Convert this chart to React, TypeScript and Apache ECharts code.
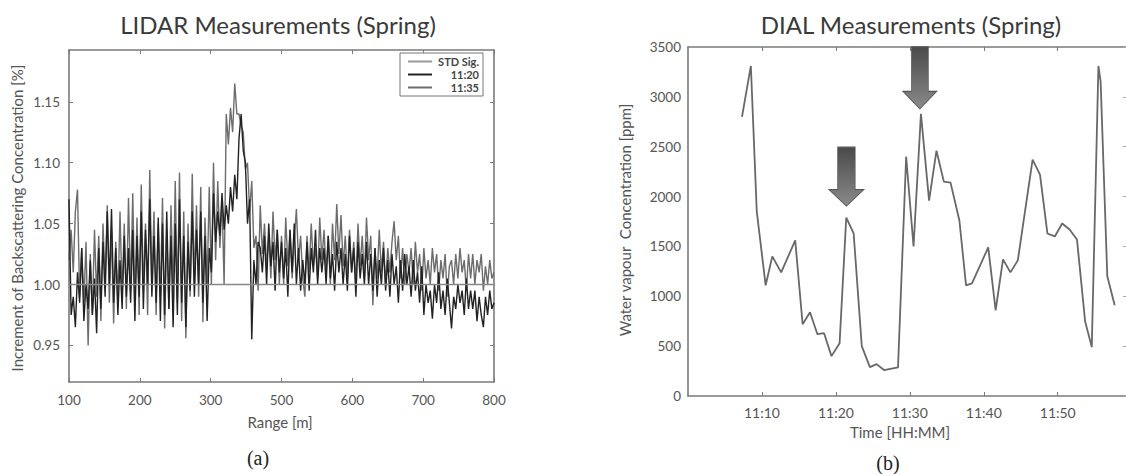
import React, { useEffect, useRef } from "react";
import * as echarts from "echarts";

// ---------- LIDAR (left) ----------
const lidarTickLabels = ["100", "200", "300", "500", "600", "700", "800"];
const lidarYTicks = [0.95, 1.0, 1.05, 1.1, 1.15];
const RANGE_START = 100;
const RANGE_STEP = 3;
const stdSigLevel = 1.0;

const lidar1135 = [
  1.020, 1.045, 1.010, 1.060, 1.078, 0.990, 1.030, 0.985, 1.035, 0.950,
  1.025, 0.975, 1.045, 0.990, 1.040, 0.970, 1.050, 1.000, 1.065, 0.985,
  1.045, 0.968, 1.035, 0.985, 1.060, 0.990, 1.050, 0.980, 1.071, 0.995,
  1.075, 0.985, 1.055, 0.975, 1.082, 0.995, 1.050, 0.975, 1.094, 1.000,
  1.060, 0.975, 1.050, 0.990, 1.071, 0.964, 1.045, 0.980, 1.065, 0.990,
  1.085, 0.985, 1.092, 0.970, 1.060, 0.956, 1.050, 0.990, 1.091, 1.000,
  1.065, 0.990, 1.080, 0.969, 1.055, 1.000, 1.080, 1.000, 1.100, 1.020,
  1.085, 1.030, 1.070, 1.000, 1.140, 1.115, 1.145, 1.125, 1.165, 1.140,
  1.140, 1.130, 1.125, 1.095, 1.100, 1.060, 1.085, 1.030, 1.040, 0.995,
  1.065, 1.025, 1.050, 1.015, 1.040, 1.005, 1.060, 1.020, 1.045, 1.000,
  1.040, 1.000, 1.055, 1.015, 1.045, 1.005, 1.035, 1.062, 1.020, 1.040,
  1.005, 0.990, 1.040, 1.010, 1.050, 1.015, 1.030, 1.005, 1.055, 1.020,
  1.045, 1.010, 1.040, 1.000, 1.050, 1.020, 1.066, 1.025, 1.057, 1.015,
  1.040, 1.005, 1.045, 1.010, 1.035, 1.000, 1.050, 1.015, 1.040, 1.005,
  1.055, 1.020, 1.040, 0.983, 1.030, 1.005, 1.045, 1.010, 1.035, 1.000,
  1.030, 1.010, 1.035, 1.052, 1.020, 1.040, 1.005, 1.030, 1.000, 1.025,
  1.010, 1.030, 1.000, 1.035, 1.010, 1.025, 0.995, 1.030, 1.005, 1.020,
  1.000, 1.030, 1.010, 1.025, 0.995, 1.020, 1.005, 1.025, 0.990, 1.015,
  1.020, 1.000, 1.025, 1.005, 1.030, 1.010, 1.020, 0.995, 1.025, 1.005,
  1.025, 1.000, 1.020, 1.010, 1.025, 0.995, 1.015, 1.000, 1.020, 1.005,
  1.010,
];

const lidar1120 = [
  1.070, 0.975, 0.990, 0.965, 1.010, 0.985, 1.030, 0.970, 1.000, 0.980,
  1.020, 0.975, 1.005, 0.960, 1.030, 0.980, 1.035, 0.990, 1.060, 1.000,
  1.062, 0.985, 1.030, 0.975, 1.020, 0.980, 1.040, 0.990, 1.030, 0.985,
  1.045, 0.970, 1.040, 0.990, 1.060, 0.980, 1.045, 1.000, 1.070, 0.990,
  1.040, 0.985, 1.055, 0.970, 1.050, 0.975, 1.060, 0.980, 1.040, 0.965,
  1.050, 0.975, 1.070, 0.985, 1.040, 0.965, 1.035, 0.995, 1.060, 0.990,
  1.045, 1.000, 1.060, 0.985, 1.040, 0.970, 1.030, 1.010, 1.075, 1.035,
  1.060, 1.040, 1.075, 1.045, 1.065, 1.050, 1.080, 1.060, 1.090, 1.070,
  1.120, 1.140, 1.110, 1.100, 1.050, 1.070, 0.955, 1.020, 1.000, 1.035,
  1.030, 1.010, 1.040, 1.000, 1.050, 1.015, 1.035, 0.995, 1.045, 1.010,
  1.035, 1.005, 1.030, 0.990, 1.045, 1.010, 1.050, 1.000, 1.030, 0.995,
  1.020, 1.000, 1.035, 0.995, 1.030, 1.010, 1.045, 1.000, 1.030, 1.010,
  1.030, 1.000, 1.040, 1.005, 1.025, 0.995, 1.035, 1.010, 1.030, 1.000,
  1.025, 0.995, 1.040, 1.010, 1.030, 0.990, 1.035, 1.005, 1.025, 1.000,
  1.035, 1.000, 1.025, 0.995, 1.030, 0.990, 1.020, 1.000, 1.030, 0.995,
  1.020, 0.990, 1.025, 1.000, 1.015, 0.985, 1.020, 0.995, 1.025, 1.000,
  1.015, 0.990, 1.020, 0.995, 1.010, 0.985, 1.015, 0.975, 1.000, 0.985,
  0.995, 0.972, 1.000, 0.985, 1.010, 0.980, 0.995, 0.975, 1.005, 0.985,
  0.964, 0.990, 0.980, 1.000, 0.985, 0.995, 0.975, 1.005, 0.980, 0.995,
  0.980, 0.995, 0.970, 0.990, 0.975, 0.965, 0.990, 0.975, 0.995, 0.980,
  0.985,
];

// ---------- DIAL (right) ----------
// minutes after 11:00
const dialMinutes = [
  7.3, 8.5, 9.3, 10.5, 11.4, 12.6, 14.5, 15.5, 16.5, 17.5, 18.4, 19.4, 20.5,
  21.4, 22.4, 23.5, 24.6, 25.5, 26.5, 28.4, 29.5, 30.5, 31.5, 32.6, 33.6, 34.6,
  35.5, 36.7, 37.6, 38.4, 40.6, 41.6, 42.6, 43.6, 44.6, 46.6, 47.6, 48.6, 49.6,
  50.6, 51.6, 52.6, 53.7, 54.6, 55.5, 55.8, 56.7, 57.7,
];
const dialValues = [
  2800, 3310, 1850, 1110, 1400, 1240, 1560, 720, 840, 620, 630, 400, 530,
  1790, 1630, 500, 290, 320, 260, 287, 2400, 1500, 2830, 1960, 2460, 2150,
  2140, 1760, 1110, 1130, 1490, 860, 1370, 1240, 1360, 2370, 2220, 1630, 1600,
  1730, 1670, 1570, 750, 490, 3310, 3150, 1200, 910,
];
const dialTickMinutes = [10, 20, 30, 40, 50];
const arrowMinutes = [21.42, 31.35];
const arrowValues = [2200, 3190];

const FONT = "Lato, 'Open Sans', sans-serif";
const AXIS_COLOR = "#7a7a7a";
const LABEL_COLOR = "#555";

const ARROW_PATH = "path://M9,0 L27,0 L27,43 L36,43 L18,60 L0,43 L9,43 Z";

export default function App() {
  const ref = useRef<HTMLDivElement>(null);

  useEffect(() => {
    if (!ref.current) return;
    const chart = echarts.init(ref.current, null, { renderer: "svg" });

    const lidarRange = lidar1120.map((_, i) => RANGE_START + i * RANGE_STEP);
    const lastRange = lidarRange[lidarRange.length - 1];

    const frameAxis = (extra: any) => ({
      splitLine: { show: false },
      axisLine: { show: true, onZero: false, lineStyle: { color: AXIS_COLOR, width: 1.6 } },
      axisTick: { show: true, inside: true, length: 4, lineStyle: { color: AXIS_COLOR, width: 1 } },
      ...extra,
    });

    const labelStyle = { color: LABEL_COLOR, fontSize: 13, fontFamily: FONT };

    const textEl = (x: number, y: number, text: string, fontSize: number, fill: string, family = FONT, rotation = 0) => ({
      type: "text",
      x,
      y,
      rotation,
      style: {
        text,
        align: "center",
        verticalAlign: "middle",
        textAlign: "center",
        textVerticalAlign: "middle",
        fontSize,
        fontFamily: family,
        fill,
      },
    });

    const option: any = {
      animation: false,
      backgroundColor: "#ffffff",
      grid: [
        { left: 69, top: 50, width: 425, height: 332, outerBoundsMode: "none", containLabel: false },
        { left: 688, top: 47, width: 440, height: 349, outerBoundsMode: "none", containLabel: false },
      ],
      legend: {
        data: ["STD Sig.", "11:20", "11:35"],
        orient: "vertical",
        left: 400,
        top: 53,
        icon: "rect",
        itemWidth: 24,
        itemHeight: 2,
        itemGap: 2,
        padding: [3, 4, 3, 8],
        borderColor: "#777",
        borderWidth: 1,
        backgroundColor: "#fff",
        formatter: (name: string) => "{t|" + name + "}",
        textStyle: {
          fontSize: 11,
          fontWeight: "bold",
          color: "#444",
          fontFamily: FONT,
          rich: {
            t: {
              width: 42,
              align: "right",
              fontSize: 11,
              fontWeight: "bold",
              color: "#444",
              fontFamily: FONT,
            },
          },
        },
      },
      xAxis: [
        frameAxis({
          gridIndex: 0,
          type: "value",
          position: "bottom",
          min: 100,
          max: 700,
          interval: 100,
          axisLabel: {
            ...labelStyle,
            fontSize: 13.5,
            margin: 11,
            formatter: (v: number) => lidarTickLabels[Math.round((v - 100) / 100)] ?? "",
          },
        }),
        frameAxis({
          gridIndex: 0,
          type: "value",
          position: "top",
          min: 100,
          max: 700,
          interval: 100,
          axisLabel: { show: false },
        }),
        frameAxis({
          gridIndex: 1,
          type: "value",
          position: "bottom",
          min: 0,
          max: 59.5,
          axisLabel: {
            ...labelStyle,
            fontSize: 14,
            margin: 9,
            customValues: dialTickMinutes,
            formatter: (v: number) => "11:" + String(v),
          },
          axisTick: {
            show: true,
            inside: true,
            length: 4,
            customValues: dialTickMinutes,
            lineStyle: { color: AXIS_COLOR },
          },
        }),
        frameAxis({
          gridIndex: 1,
          type: "value",
          position: "top",
          min: 0,
          max: 59.5,
          axisLabel: { show: false, customValues: dialTickMinutes },
          axisTick: {
            show: true,
            inside: true,
            length: 4,
            customValues: dialTickMinutes,
            lineStyle: { color: AXIS_COLOR },
          },
        }),
      ],
      yAxis: [
        frameAxis({
          gridIndex: 0,
          type: "value",
          position: "left",
          min: 0.92,
          max: 1.1925,
          axisLabel: {
            ...labelStyle,
            fontSize: 13.5,
            margin: 9,
            customValues: lidarYTicks,
            formatter: (v: number) => v.toFixed(2),
          },
          axisTick: {
            show: true,
            inside: true,
            length: 4,
            customValues: lidarYTicks,
            lineStyle: { color: AXIS_COLOR },
          },
        }),
        frameAxis({
          gridIndex: 0,
          type: "value",
          position: "right",
          min: 0.92,
          max: 1.1925,
          axisLabel: { show: false, customValues: lidarYTicks },
          axisTick: {
            show: true,
            inside: true,
            length: 4,
            customValues: lidarYTicks,
            lineStyle: { color: AXIS_COLOR },
          },
        }),
        frameAxis({
          gridIndex: 1,
          type: "value",
          position: "left",
          min: 0,
          max: 3500,
          interval: 500,
          axisLabel: { ...labelStyle, fontSize: 13.5, margin: 7, formatter: (v: number) => String(v) },
          axisTick: { show: false },
        }),
        frameAxis({
          gridIndex: 1,
          type: "value",
          position: "right",
          min: 0,
          max: 3500,
          interval: 500,
          axisLabel: { show: false },
          axisTick: { show: true, inside: true, length: 5, lineStyle: { color: "#aaa" } },
        }),
      ],
      series: [
        {
          name: "11:35",
          type: "line",
          xAxisIndex: 0,
          yAxisIndex: 0,
          showSymbol: false,
          symbol: "none",
          data: lidarRange.map((x, i) => [x, lidar1135[i]]),
          lineStyle: { color: "#6c6c6c", width: 1.4 },
          itemStyle: { color: "#6c6c6c" },
        },
        {
          name: "11:20",
          type: "line",
          xAxisIndex: 0,
          yAxisIndex: 0,
          showSymbol: false,
          symbol: "none",
          data: lidarRange.map((x, i) => [x, lidar1120[i]]),
          lineStyle: { color: "#222", width: 1.4 },
          itemStyle: { color: "#222" },
        },
        {
          name: "STD Sig.",
          type: "line",
          xAxisIndex: 0,
          yAxisIndex: 0,
          showSymbol: false,
          symbol: "none",
          data: [
            [RANGE_START, stdSigLevel],
            [lastRange, stdSigLevel],
          ],
          lineStyle: { color: "#888", width: 1.6 },
          itemStyle: { color: "#999" },
        },
        {
          name: "DIAL",
          type: "line",
          xAxisIndex: 2,
          yAxisIndex: 2,
          showSymbol: false,
          symbol: "none",
          data: dialMinutes.map((m, i) => [m, dialValues[i]]),
          lineStyle: { color: "#686868", width: 1.8 },
          itemStyle: { color: "#686868" },
          markPoint: {
            silent: true,
            symbol: ARROW_PATH,
            symbolKeepAspect: false,
            label: { show: false },
            itemStyle: {
              color: new echarts.graphic.LinearGradient(0, 0, 0, 1, [
                { offset: 0, color: "#4a4a4a" },
                { offset: 1, color: "#8a8a8a" },
              ]),
              borderColor: "#555",
              borderWidth: 0.8,
            },
            data: [
              { coord: [arrowMinutes[0], arrowValues[0]], symbolSize: [35, 59] },
              { coord: [arrowMinutes[1], arrowValues[1]], symbolSize: [34, 62] },
            ],
          },
        },
      ],
      graphic: [
        textEl(278, 24, "LIDAR Measurements (Spring)", 24, "#3a3a3a"),
        textEl(911, 24, "DIAL Measurements (Spring)", 24, "#3a3a3a"),
        textEl(17, 218, "Increment of Backscattering Concentration [%]", 15, LABEL_COLOR, FONT, Math.PI / 2),
        textEl(625, 220, "Water vapour  Concentration [ppm]", 15, LABEL_COLOR, FONT, Math.PI / 2),
        textEl(280, 422, "Range [m]", 15, LABEL_COLOR),
        textEl(900, 432, "Time [HH:MM]", 15, LABEL_COLOR),
        textEl(258, 458, "(a)", 20, "#222", "'Liberation Serif', 'DejaVu Serif', serif"),
        textEl(888, 463, "(b)", 20, "#222", "'Liberation Serif', 'DejaVu Serif', serif"),
      ],
    };

    chart.setOption(option);
    return () => chart.dispose();
  }, []);

  return (
    <div style={{ position: "absolute", left: 0, top: 0, width: 1126, height: 474, overflow: "hidden", background: "#fff" }}>
      <div ref={ref} style={{ width: 1134, height: 474 }} />
    </div>
  );
}
